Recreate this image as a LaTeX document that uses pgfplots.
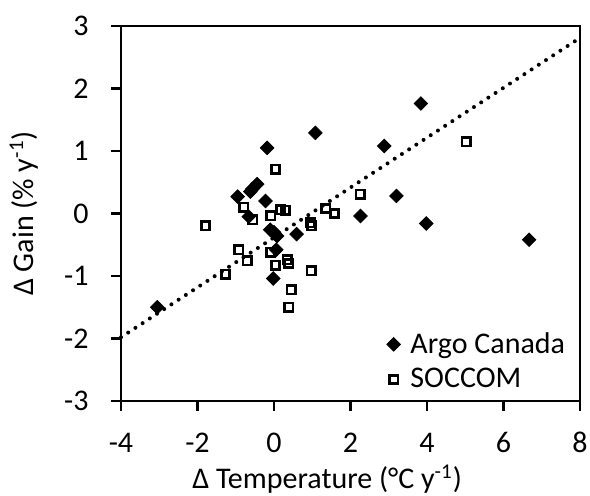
\documentclass[border=0pt]{standalone}
\usepackage{fontspec}
\setmainfont{Carlito}
\usepackage{pgfplots}
\pgfplotsset{compat=1.18}

\begin{document}
\begin{tikzpicture}[font=\fontsize{15}{18}\selectfont]
\begin{axis}[
  width=229.5pt, height=187.5pt, scale only axis,
  xmin=-4, xmax=8, ymin=-3, ymax=3,
  xtick={-4,-2,...,8}, ytick={-3,-2,...,3},
  tick pos=left, tick align=outside,
  major tick length=5pt,
  every tick/.style={black, line width=1.35pt},
  axis line style={line width=1.35pt},
  /pgf/number format/assume math mode=true,
  xticklabel style={anchor=base, inner sep=0pt, yshift=-21pt},
  yticklabel style={anchor=east, inner sep=0pt, xshift=-11pt},
  xlabel={Δ Temperature (°C y\textsuperscript{-1})},
  ylabel={Δ Gain (\% y\textsuperscript{-1})},
  xlabel style={at={([yshift=-44pt]rel axis cs:0.449,0)}, anchor=base},
  ylabel style={at={([xshift=-48.5pt]rel axis cs:0,0.5)}, anchor=center},
  legend style={draw=none, fill=none, at={(rel axis cs:0.99,0.005)},
    anchor=south east, row sep=2pt},
  legend cell align=left,
  clip=false,
]
\path (rel axis cs:0,0) coordinate (sw) (rel axis cs:1,1) coordinate (ne);
% trend line
\addplot[black, line width=2pt, line cap=round, dash pattern=on 0pt off 4.3pt, forget plot]
  coordinates {(-4,-1.98)(8,2.81)};
% Argo Canada
\addplot[only marks, mark=square*, mark size=2.4pt,
  mark options={fill=black, draw=black, line width=0.4pt, rotate=45}]
  coordinates {
  (-3.05,-1.50)(-0.18,1.05)(1.08,1.29)(3.84,1.76)(2.88,1.08)(3.20,0.28)
  (2.26,-0.04)(3.98,-0.16)(6.67,-0.42)(-0.95,0.27)(-0.62,0.35)(-0.57,0.39)
  (-0.44,0.47)(-0.22,0.20)(-0.66,-0.05)(-0.10,-0.26)(0.08,-0.36)(0.00,-0.30)
  (0.59,-0.33)(0.06,-0.58)(-0.02,-1.04)
  };
\addlegendentry{\hspace{3pt}Argo Canada}
% SOCCOM
\addplot[only marks, mark=square, mark size=2.1pt,
  mark options={draw=black, line width=1.3pt}]
  coordinates {
  (0.04,0.71)(-0.79,0.10)(-0.55,-0.10)(-0.08,-0.04)(0.17,0.06)(0.30,0.05)
  (-1.79,-0.20)(-0.92,-0.58)(-0.70,-0.76)(-1.27,-0.97)(-0.09,-0.62)(0.04,-0.83)
  (0.39,-0.80)(0.34,-0.74)(0.98,-0.20)(0.95,-0.15)(1.35,0.08)(1.58,0.00)
  (2.25,0.31)(0.97,-0.92)(0.45,-1.22)(0.39,-1.50)(5.02,1.15)
  };
\addlegendentry{\hspace{3pt}SOCCOM}
\end{axis}
\pgfresetboundingbox
\path[use as bounding box] ([shift={(-60.5pt,-47.5pt)}]sw) rectangle ([shift={(5pt,13pt)}]ne);
\end{tikzpicture}
\end{document}
